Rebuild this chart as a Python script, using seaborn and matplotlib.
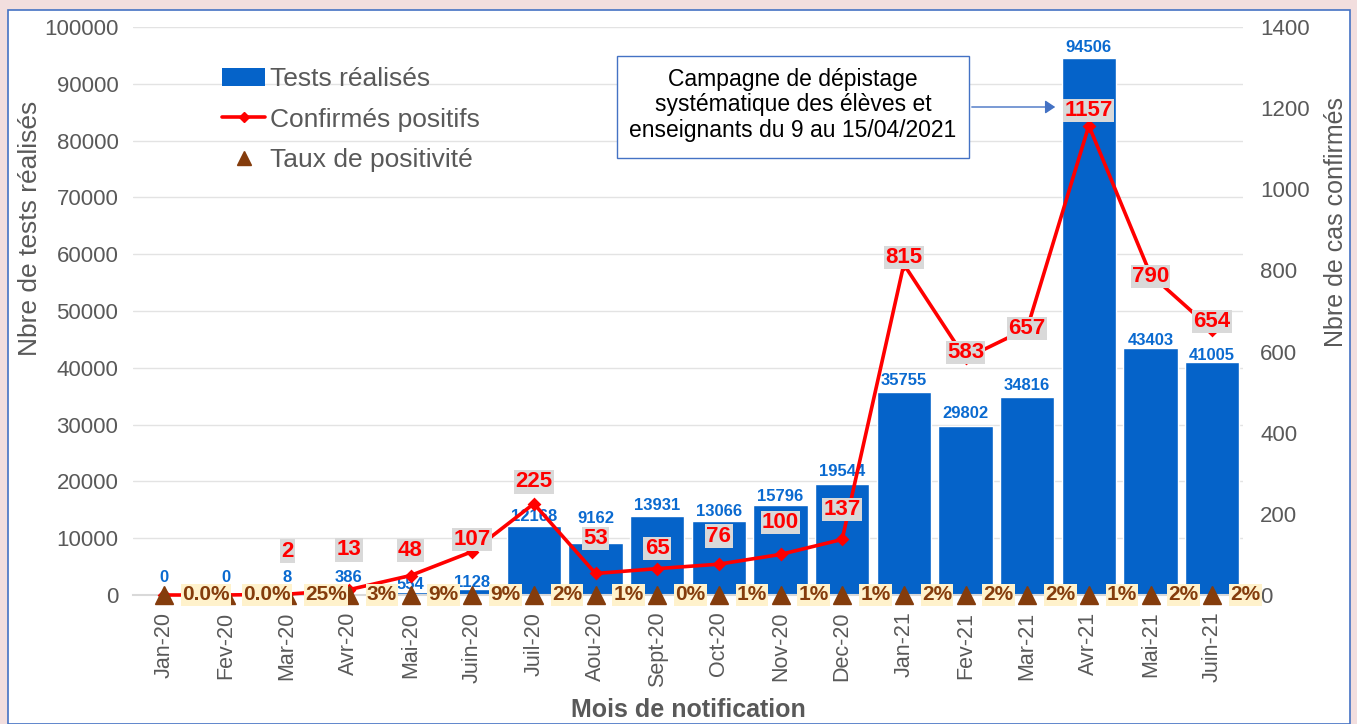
import numpy as np
import pandas as pd
import matplotlib
matplotlib.use("Agg")
import matplotlib.pyplot as plt
import seaborn as sns
from matplotlib.patches import Rectangle, Patch, FancyArrowPatch
from matplotlib.lines import Line2D

# ---------------- data ----------------
mois = ['Jan-20', 'Fev-20', 'Mar-20', 'Avr-20', 'Mai-20', 'Juin-20', 'Juil-20', 'Aou-20',
        'Sept-20', 'Oct-20', 'Nov-20', 'Dec-20', 'Jan-21', 'Fev-21', 'Mar-21', 'Avr-21',
        'Mai-21', 'Juin-21']
tests = [0, 0, 8, 386, 554, 1128, 12168, 9162, 13931, 13066, 15796, 19544, 35755, 29802,
         34816, 94506, 43403, 41005]
confirmes = [0, 0, 2, 13, 48, 107, 225, 53, 65, 76, 100, 137, 815, 583, 657, 1157, 790, 654]
taux = [0.0, 0.0, 0.25, 0.03, 0.09, 0.09, 0.02, 0.01, 0.0, 0.01, 0.01, 0.01, 0.02, 0.02,
        0.02, 0.01, 0.02, 0.02]
taux_labels = ['0.0%', '0.0%', '25%', '3%', '9%', '9%', '2%', '1%', '0%', '1%', '1%', '1%',
               '2%', '2%', '2%', '1%', '2%', '2%']
left_ticks = [0, 10000, 20000, 30000, 40000, 50000, 60000, 70000, 80000, 90000, 100000]
right_ticks = [0, 200, 400, 600, 800, 1000, 1200, 1400]

# label placement offsets (pixels above the mark)
tests_dy = [17, 17, 17, 15, 7, 6, 9, 24, 10, 9, 9, 12, 11, 12, 12, 11, 8, 7]
conf_dy = [0, 0, 43, 40, 25, 12, 22, 35, 20, 28, 32, 30, 7, 6, 0, 15, -2, 8]

df = pd.DataFrame({'mois': mois, 'tests': tests, 'confirmes': confirmes, 'taux': taux})

# ---------------- style ----------------
sns.set_theme(style="white")
plt.rcParams['font.family'] = ['Liberation Sans', 'DejaVu Sans']
NARROW = ['Liberation Sans Narrow', 'Liberation Sans', 'DejaVu Sans']
GREY = '#595959'
BLUE = '#0563C9'
RED = '#FF0000'
BROWN = '#843C0C'

W, H = 1357, 724
fig = plt.figure(figsize=(W / 100, H / 100), dpi=100)
fig.patch.set_facecolor('#f2dede')
fig.patches.append(Rectangle((8 / W, 0), (1350 - 8) / W, (H - 10) / H, transform=fig.transFigure,
                             facecolor='white', edgecolor='#4472C4', linewidth=1.2, zorder=-5))

ax = fig.add_axes([133 / W, (H - 595) / H, (1243 - 133) / W, (595 - 27) / H])
ax.patch.set_alpha(0)

sns.barplot(data=df, x='mois', y='tests', color=BLUE, saturation=1, width=0.88, ax=ax,
            errorbar=None)
ax.set_ylim(0, 100000)
ax.set_yticks(left_ticks)
ax.yaxis.grid(True, color='#E3E3E3', linewidth=1)
ax.set_axisbelow(True)
for s in ['top', 'right', 'left']:
    ax.spines[s].set_visible(False)
ax.spines['bottom'].set_color('#D9D9D9')
ax.spines['bottom'].set_linewidth(1.5)
ax.tick_params(axis='y', labelsize=16, colors=GREY, length=0, pad=10.5)
ax.tick_params(axis='x', labelsize=15.5, colors=GREY, length=0, pad=12, labelrotation=90)

for i, (v, dy) in enumerate(zip(tests, tests_dy)):
    ax.annotate(str(v), (i, v), xytext=(0, dy), textcoords='offset pixels', ha='center',
                va='center', color='#0A6AD0', fontweight='bold', fontsize=12, family=NARROW)

ax2 = ax.twinx()
sns.pointplot(data=df, x='mois', y='confirmes', ax=ax2, color=RED, markers='D',
              markersize=5, linewidth=2.6, errorbar=None, clip_on=False)
sns.pointplot(data=df, x='mois', y='taux', ax=ax2, color=BROWN, markers='^',
              linestyles='none', markersize=13, markeredgewidth=1, errorbar=None,
              clip_on=False)
ax2.set_ylim(0, 1400)
ax2.set_yticks(right_ticks)
for s in ax2.spines.values():
    s.set_visible(False)
ax2.tick_params(axis='y', labelsize=16, colors=GREY, length=0, pad=12.5)
ax2.set_xlim(-0.5, len(mois) - 0.5)

for i, (v, dy) in enumerate(zip(confirmes, conf_dy)):
    if v == 0:
        continue
    ax2.annotate(str(v), (i, v), xytext=(0, dy), textcoords='offset pixels', ha='center',
                 va='center', color=RED, fontweight='bold', fontsize=16, family=NARROW,
                 bbox=dict(boxstyle='square,pad=0.06', facecolor='#D9D9D9', edgecolor='none'))

for i, (t, lab) in enumerate(zip(taux, taux_labels)):
    ax2.annotate(lab, (i, t), xytext=(18, 0), textcoords='offset pixels', ha='left',
                 va='center', color=BROWN, fontweight='bold', fontsize=15, family=NARROW,
                 bbox=dict(boxstyle='square,pad=0.06', facecolor='#FFF2CC', edgecolor='none'))

ax.set_xticks(range(len(mois)))
ax.set_xticklabels(mois)
ax.set_xlabel('Mois de notification', fontsize=18, fontweight='bold', color=GREY, family=NARROW)
ax.xaxis.set_label_coords(0.5, -0.182)
ax.set_ylabel('Nbre de tests réalisés', fontsize=19, color=GREY)
ax.yaxis.set_label_coords(-0.082, 0.646)
ax2.set_ylabel('Nbre de cas confirmés', fontsize=18, color=GREY, rotation=90)
ax2.yaxis.set_label_coords(1.073, 0.657)

handles = [Patch(facecolor=BLUE, edgecolor='none'),
           Line2D([], [], color=RED, marker='D', markersize=5, linewidth=2.6),
           Line2D([], [], color=BROWN, marker='^', markersize=10, linestyle='none')]
labels = ['Tests réalisés', 'Confirmés positifs', 'Taux de positivité']
leg = ax2.legend(handles, labels, loc='upper left', bbox_to_anchor=(0.0707, 0.948),
                 frameon=False, fontsize=19, handlelength=1.63, handletextpad=0.19,
                 labelspacing=0.63, borderaxespad=0)
for t in leg.get_texts():
    t.set_color(GREY)

# annotation box
bx0, bx1, by0, by1 = 617, 969, 56, 158
fig.patches.append(Rectangle((bx0 / W, 1 - by1 / H), (bx1 - bx0) / W, (by1 - by0) / H,
                             transform=fig.transFigure, facecolor='white',
                             edgecolor='#4472C4', linewidth=1, zorder=5))
fig.text((bx0 + bx1) / 2 / W, 1 - (by0 + by1 - 4) / 2 / H,
         'Campagne de dépistage\nsystématique des élèves et\nenseignants du 9 au 15/04/2021',
         ha='center', va='center', fontsize=16.5, color='black', linespacing=1.12,
         family=NARROW, zorder=6)
fig.add_artist(FancyArrowPatch(
    (bx1 / W, 1 - 107 / H), (1058 / W, 1 - 107 / H), transform=fig.transFigure,
    arrowstyle='-|>,head_length=6,head_width=4', color='#4472C4', linewidth=1, zorder=6))

fig.savefig('out.png', dpi=100, facecolor=fig.get_facecolor())
